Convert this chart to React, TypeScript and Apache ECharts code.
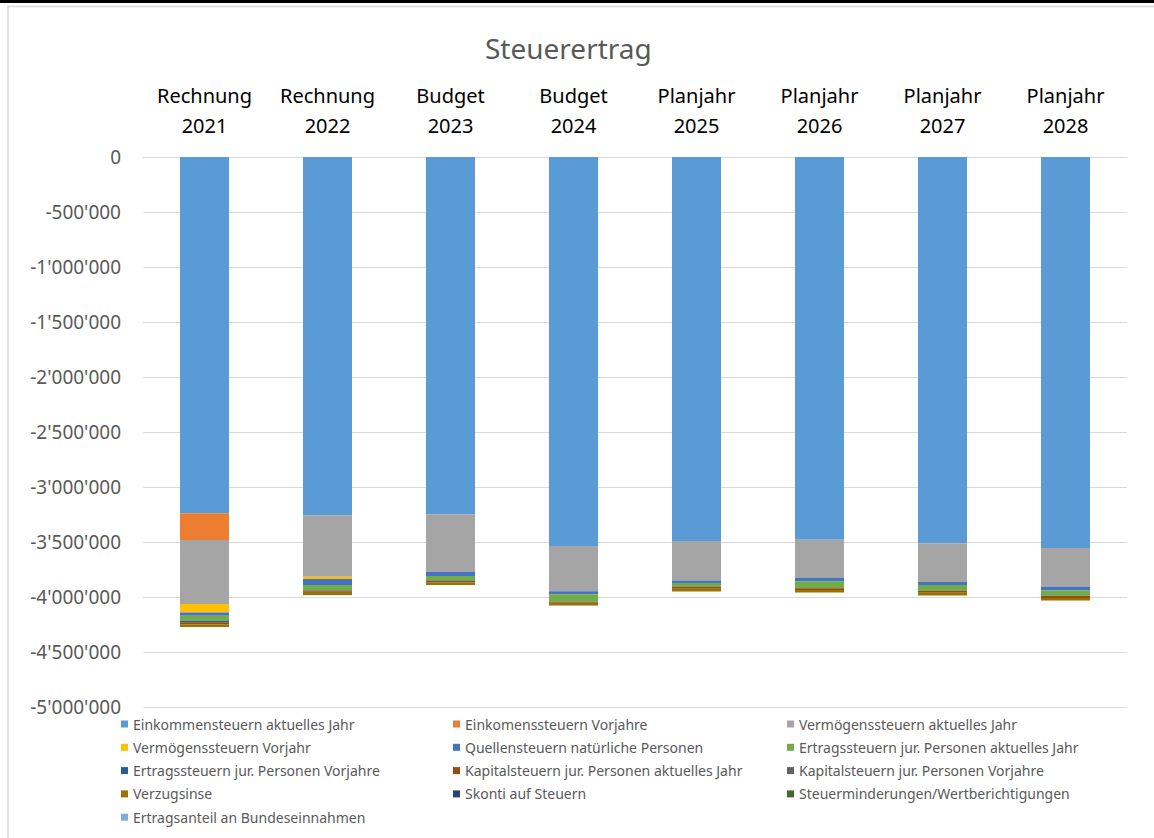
import React, { useEffect, useRef } from "react";
import * as echarts from "echarts";

const categories = [
  "Rechnung\n2021",
  "Rechnung\n2022",
  "Budget\n2023",
  "Budget\n2024",
  "Planjahr\n2025",
  "Planjahr\n2026",
  "Planjahr\n2027",
  "Planjahr\n2028",
];

const seriesNames = [
  "Einkommensteuern aktuelles Jahr",
  "Einkomenssteuern Vorjahre",
  "Vermögenssteuern aktuelles Jahr",
  "Vermögenssteuern Vorjahr",
  "Quellensteuern natürliche Personen",
  "Ertragssteuern jur. Personen aktuelles Jahr",
  "Ertragssteuern jur. Personen Vorjahre",
  "Kapitalsteuern jur. Personen aktuelles Jahr",
  "Kapitalsteuern jur. Personen Vorjahre",
  "Verzugsinse",
  "Skonti auf Steuern",
  "Steuerminderungen/Wertberichtigungen",
  "Ertragsanteil an Bundeseinnahmen",
];

const colors = [
  "#5B9BD5",
  "#ED7D31",
  "#A5A5A5",
  "#FFC000",
  "#4472C4",
  "#70AD47",
  "#255E91",
  "#9E480E",
  "#636363",
  "#997300",
  "#264478",
  "#43682B",
  "#7CAFDD",
];

const einkommenAktuell = [-3239000, -3257000, -3248000, -3536000, -3491000, -3479000, -3512000, -3555000];
const einkommenVorjahre = [-243000, 0, 0, 0, 0, 0, 0, 0];
const vermoegenAktuell = [-582000, -558000, -525000, -412000, -358000, -348000, -352000, -355000];
const vermoegenVorjahr = [-76000, -21000, 0, 0, 0, 0, 0, 0];
const quellensteuern = [-30000, -55000, -36000, -27000, -24000, -30000, -27000, -30000];
const ertragAktuell = [-45000, -45000, -42000, -66000, -33000, -61000, -52000, -48000];
const ertragVorjahre = [-15000, -5000, -3000, -3000, -3000, -3000, -3000, -3000];
const kapitalAktuell = [-15000, -12000, -12000, -9000, -15000, -15000, -15000, -18000];
const kapitalVorjahre = [-3000, -2000, -1000, -1000, -1000, -1000, -1000, -1000];
const verzugsinse = [-24000, -27000, -24000, -24000, -24000, -21000, -24000, -21000];
const skonti = [2000, 2000, 2000, 2000, 2000, 2000, 2000, 2000];
const steuerminderungen = [3000, 1000, 2000, 2000, 2000, 2000, 2000, 2000];
const ertragsanteilBund = [-1000, -1000, -1000, -1000, -1000, -1000, -1000, -1000];

const seriesValues = [
  einkommenAktuell,
  einkommenVorjahre,
  vermoegenAktuell,
  vermoegenVorjahr,
  quellensteuern,
  ertragAktuell,
  ertragVorjahre,
  kapitalAktuell,
  kapitalVorjahre,
  verzugsinse,
  skonti,
  steuerminderungen,
  ertragsanteilBund,
];

const yMin = -5000000;
const yMax = 0;
const yInterval = 500000;

const FONT = "'Noto Sans', sans-serif";

function fmt(v: number): string {
  if (v === 0) return "0";
  const s = Math.abs(v).toString().replace(/\B(?=(\d{3})+(?!\d))/g, "'");
  return (v < 0 ? "-" : "") + s;
}

export default function App() {
  const ref = useRef<HTMLDivElement>(null);

  useEffect(() => {
    if (!ref.current) return;
    const chart = echarts.init(ref.current, null, { renderer: "svg" });

    const columns = [0, 1, 2].map((c) => seriesNames.filter((_, i) => i % 3 === c));
    const legendLefts = [121, 453, 787];

    const legendCommon = {
      orient: "vertical" as const,
      top: 716,
      padding: 0,
      icon: "rect",
      itemWidth: 7,
      itemHeight: 7,
      itemGap: 7.3,
      selectedMode: false,
      textStyle: {
        fontFamily: FONT,
        fontSize: 14,
        color: "#595959",
        lineHeight: 16,
      },
    };

    chart.setOption({
      animation: false,
      color: colors,
      title: {
        text: "Steuerertrag",
        left: 485,
        top: 34,
        padding: 0,
        textStyle: {
          fontFamily: FONT,
          fontSize: 28,
          fontWeight: "normal",
          color: "#595959",
        },
      },
      legend: columns.map((data, c) => ({
        ...legendCommon,
        left: legendLefts[c],
        data,
      })),
      grid: {
        left: 143,
        right: 27,
        top: 157,
        bottom: 131,
        containLabel: false,
      },
      xAxis: {
        type: "category",
        position: "top",
        data: categories,
        axisLine: { show: true, lineStyle: { color: "#D9D9D9", width: 1 } },
        axisTick: { show: false },
        axisLabel: {
          fontFamily: FONT,
          fontSize: 20,
          color: "#000000",
          lineHeight: 30,
          margin: 17,
          interval: 0,
        },
      },
      yAxis: {
        type: "value",
        min: yMin,
        max: yMax,
        interval: yInterval,
        axisLine: { show: false },
        axisTick: { show: false },
        splitLine: { lineStyle: { color: "#D9D9D9", width: 1 } },
        axisLabel: {
          fontFamily: FONT,
          fontSize: 19,
          color: "#595959",
          margin: 22,
          formatter: (v: number) => fmt(v),
        },
      },
      series: seriesNames.map((name, i) => ({
        name,
        type: "bar",
        stack: "total",
        barWidth: 49,
        data: seriesValues[i],
        itemStyle: { color: colors[i] },
      })),
      graphic: [
        {
          type: "rect",
          shape: { x: 0, y: 0, width: 1154, height: 3 },
          style: { fill: "#000000" },
          silent: true,
        },
        {
          type: "line",
          shape: { x1: 7, y1: 6.5, x2: 1154, y2: 6.5 },
          style: { stroke: "#D9D9D9", lineWidth: 1.5 },
          silent: true,
        },
        {
          type: "line",
          shape: { x1: 8, y1: 6, x2: 8, y2: 838 },
          style: { stroke: "#D9D9D9", lineWidth: 1.5 },
          silent: true,
        },
      ],
    });

    return () => chart.dispose();
  }, []);

  return (
    <div
      ref={ref}
      style={{ position: "fixed", left: 0, top: 0, width: 1154, height: 838, background: "#ffffff" }}
    />
  );
}
